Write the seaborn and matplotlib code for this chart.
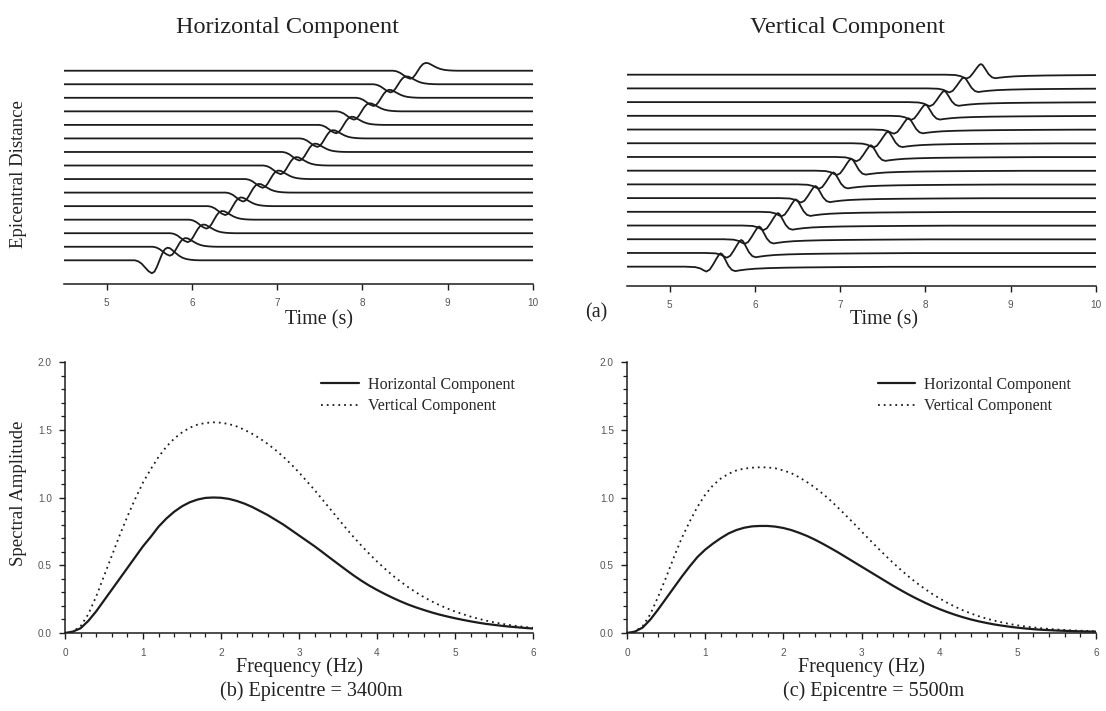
import numpy as np
import pandas as pd
import matplotlib
matplotlib.use("Agg")
import matplotlib.pyplot as plt
from matplotlib.ticker import MultipleLocator
import seaborn as sns

# ---------------------------------------------------------------- data
# Spectral amplitude curves, sampled every 0.1 Hz from 0 to 6 Hz
freq = [round(0.1 * i, 1) for i in range(61)]

spec_b_horizontal = [
    0.0, 0.01, 0.035, 0.09, 0.16, 0.24, 0.32, 0.40, 0.48, 0.56,
    0.64, 0.71, 0.785, 0.845, 0.895, 0.935, 0.965, 0.985, 0.997, 1.0,
    0.998, 0.99, 0.975, 0.955, 0.93, 0.90, 0.87, 0.835, 0.80, 0.76,
    0.72, 0.68, 0.64, 0.597, 0.553, 0.51, 0.467, 0.425, 0.386, 0.35,
    0.318, 0.288, 0.26, 0.234, 0.21, 0.189, 0.17, 0.152, 0.136, 0.122,
    0.109, 0.097, 0.086, 0.076, 0.067, 0.06, 0.053, 0.047, 0.042, 0.037,
    0.033]
spec_b_vertical = [
    0.0, 0.01, 0.05, 0.14, 0.27, 0.42, 0.57, 0.72, 0.86, 0.99,
    1.11, 1.21, 1.30, 1.375, 1.435, 1.48, 1.515, 1.538, 1.55, 1.555,
    1.552, 1.542, 1.525, 1.50, 1.47, 1.435, 1.395, 1.35, 1.30, 1.245,
    1.185, 1.12, 1.055, 0.985, 0.915, 0.845, 0.775, 0.708, 0.645, 0.585,
    0.528, 0.475, 0.425, 0.38, 0.338, 0.30, 0.265, 0.234, 0.206, 0.181,
    0.159, 0.139, 0.121, 0.105, 0.091, 0.079, 0.068, 0.059, 0.051, 0.044,
    0.038]
spec_c_horizontal = [
    0.0, 0.01, 0.04, 0.10, 0.175, 0.255, 0.335, 0.415, 0.49, 0.56,
    0.615, 0.66, 0.70, 0.735, 0.76, 0.777, 0.787, 0.79, 0.79, 0.785,
    0.775, 0.76, 0.74, 0.717, 0.69, 0.66, 0.628, 0.595, 0.56, 0.525,
    0.49, 0.455, 0.42, 0.385, 0.35, 0.317, 0.285, 0.255, 0.227, 0.20,
    0.176, 0.154, 0.134, 0.116, 0.10, 0.086, 0.074, 0.063, 0.054, 0.046,
    0.039, 0.033, 0.028, 0.024, 0.021, 0.018, 0.016, 0.014, 0.012, 0.011,
    0.01]
spec_c_vertical = [
    0.0, 0.01, 0.05, 0.14, 0.27, 0.41, 0.56, 0.70, 0.82, 0.93,
    1.02, 1.09, 1.14, 1.175, 1.20, 1.213, 1.22, 1.223, 1.222, 1.215,
    1.20, 1.18, 1.15, 1.115, 1.075, 1.03, 0.98, 0.925, 0.868, 0.81,
    0.75, 0.69, 0.632, 0.575, 0.52, 0.468, 0.418, 0.372, 0.33, 0.29,
    0.255, 0.222, 0.193, 0.167, 0.144, 0.124, 0.106, 0.091, 0.078, 0.066,
    0.056, 0.048, 0.041, 0.035, 0.03, 0.026, 0.022, 0.019, 0.017, 0.015,
    0.013]

# Synthetic seismograms: one trace per epicentral distance (nearest at the bottom)
n_traces = 15
h_trough_time = [5.53, 5.74, 5.95, 6.17, 6.39, 6.60, 6.83, 7.04, 7.26, 7.47, 7.69, 7.90,
                 8.13, 8.33, 8.56]
h_gain = [1.45, 1.0, 1.0, 1.0, 1.0, 1.0, 0.98, 0.97, 0.96, 0.95, 0.94, 0.93, 0.92, 0.91, 0.9]
# horizontal wavelet, time after trough (s) and amplitude (trace spacings)
h_wave_t = [-0.30, -0.20, -0.16, -0.12, -0.08, -0.04, 0.00, 0.03, 0.06, 0.09, 0.12,
            0.15, 0.18, 0.21, 0.24, 0.28, 0.32, 0.36, 0.40, 0.45, 0.50, 0.56]
h_wave_a = [0.0, 0.0, -0.05, -0.17, -0.36, -0.55, -0.66, -0.58, -0.33, 0.0, 0.32,
            0.55, 0.64, 0.62, 0.52, 0.37, 0.23, 0.13, 0.07, 0.03, 0.01, 0.0]

v_peak_time = [5.60, 5.84, 6.05, 6.27, 6.48, 6.71, 6.92, 7.13, 7.36, 7.56, 7.80, 8.00,
               8.22, 8.45, 8.65]
v_gain = [1.08, 1.05, 1.03, 1.01, 1.0, 0.98, 0.97, 0.96, 0.95, 0.93, 0.92, 0.91, 0.9,
          0.88, 0.86]
# vertical wavelet, time after peak (s) and amplitude (trace spacings)
v_wave_t = [-0.42, -0.30, -0.24, -0.20, -0.17, -0.13, -0.09, -0.05, -0.02, 0.0, 0.02,
            0.05, 0.09, 0.13, 0.17, 0.22, 0.30, 0.40, 0.55, 0.75, 1.00, 1.40, 2.0]
v_wave_a = [0.0, -0.03, -0.12, -0.25, -0.33, -0.2, 0.15, 0.55, 0.82, 0.90, 0.82,
            0.50, 0.05, -0.22, -0.30, -0.25, -0.19, -0.14, -0.10, -0.07, -0.05, -0.03, -0.01]

time_ticks = [5, 6, 7, 8, 9, 10]
freq_ticks = [0, 1, 2, 3, 4, 5, 6]
amp_ticks = [0.0, 0.5, 1.0, 1.5, 2.0]

# ---------------------------------------------------------------- style
sns.set_theme(style="white")
plt.rcParams["font.family"] = ["Liberation Serif", "DejaVu Serif"]
INK = "#1c1c1c"
TICK_GRAY = "#555555"
W, H = 1106, 711


def px_axes(fig, x0, y0, x1, y1):
    return fig.add_axes([x0 / W, 1 - y1 / H, (x1 - x0) / W, (y1 - y0) / H])


def trace_frame(arrivals, gains, wave_t, wave_a):
    rows = []
    for k in range(n_traces):
        ts = [4.5] + [arrivals[k] + dt for dt in wave_t]
        ys = [0.0] + [gains[k] * a for a in wave_a]
        ts.append(max(10.0, ts[-1] + 0.01))
        ys.append(ys[-1])
        for t, y in zip(ts, ys):
            rows.append({"time": t, "y": k + y, "trace": k})
    return pd.DataFrame(rows)


def style_time_axis(ax):
    for side in ("left", "top", "right"):
        ax.spines[side].set_visible(False)
    ax.spines["bottom"].set_color(INK)
    ax.spines["bottom"].set_linewidth(1.1)
    ax.set_xlim(4.5, 10)
    ax.set_xticks(time_ticks)
    ax.set_xticklabels([str(t) for t in time_ticks], family="Liberation Sans",
                       fontsize=7.2, color=TICK_GRAY)
    ax.set_yticks([])
    ax.tick_params(axis="x", direction="out", length=4.5, width=1.0, color=INK,
                   pad=5.5, bottom=True)
    ax.set_xlabel("")
    ax.set_ylabel("")
    ax.patch.set_alpha(0)


def style_spec_axis(ax):
    for side in ("top", "right"):
        ax.spines[side].set_visible(False)
    for side in ("left", "bottom"):
        ax.spines[side].set_color(INK)
        ax.spines[side].set_linewidth(1.1)
    ax.set_xlim(0, 6)
    ax.set_ylim(0, 2)
    ax.set_xticks(freq_ticks)
    ax.set_xticklabels([str(t) for t in freq_ticks], family="Liberation Sans",
                       fontsize=7.2, color=TICK_GRAY)
    ax.set_yticks(amp_ticks)
    ax.set_yticklabels([f"{t:.1f}" for t in amp_ticks], family="Liberation Sans",
                       fontsize=7.2, color=TICK_GRAY)
    ax.xaxis.set_minor_locator(MultipleLocator(0.2))
    ax.yaxis.set_minor_locator(MultipleLocator(0.1))
    ax.tick_params(which="major", direction="out", length=4.5, width=1.0, color=INK,
                   bottom=True, left=True)
    ax.tick_params(which="minor", direction="out", length=2.6, width=0.9, color=INK,
                   bottom=True, left=True)
    ax.tick_params(axis="x", which="major", pad=6)
    ax.tick_params(axis="y", which="major", pad=5)
    ax.set_xlabel("")
    ax.set_ylabel("")
    ax.patch.set_alpha(0)


fig = plt.figure(figsize=(W / 100, H / 100), dpi=100)
fig.patch.set_facecolor("white")

# ---------------------------------------------------------------- (a) seismograms
ax_h = px_axes(fig, 64, 50, 533, 284)
df_h = trace_frame(h_trough_time, h_gain, h_wave_t, h_wave_a)
sns.lineplot(data=df_h, x="time", y="y", units="trace", estimator=None, color=INK,
             linewidth=1.3, ax=ax_h, legend=False)
ax_h.set_ylim(-1.75, 15.53)
style_time_axis(ax_h)

ax_v = px_axes(fig, 627, 50, 1096, 286)
df_v = trace_frame(v_peak_time, v_gain, v_wave_t, v_wave_a)
sns.lineplot(data=df_v, x="time", y="y", units="trace", estimator=None, color=INK,
             linewidth=1.3, ax=ax_v, legend=False)
ax_v.set_ylim(-1.41, 15.8)
style_time_axis(ax_v)

fig.text(287 / W, 1 - 27 / H, "Horizontal Component", ha="center", va="center",
         fontsize=17.5, color="#222222")
fig.text(848 / W, 1 - 27 / H, "Vertical Component", ha="center", va="center",
         fontsize=17.5, color="#222222")
fig.text(19 / W, 1 - 174 / H, "Epicentral Distance", ha="center", va="center",
         rotation=90, fontsize=13.5, color="#222222")
fig.text(319 / W, 1 - 320 / H, "Time (s)", ha="center", va="center", fontsize=14.5,
         color="#222222")
fig.text(884 / W, 1 - 320 / H, "Time (s)", ha="center", va="center", fontsize=14.5,
         color="#222222")
fig.text(596 / W, 1 - 313 / H, "(a)", ha="center", va="center", fontsize=14.5,
         color="#222222")

# ---------------------------------------------------------------- (b), (c) spectra
panels = [
    (65, 533, spec_b_horizontal, spec_b_vertical, "(b) Epicentre = 3400m", 0.548),
    (627, 1096, spec_c_horizontal, spec_c_vertical, "(c) Epicentre = 5500m", 0.535),
]
for i, (x0, x1, sh, sv, caption, leg_x) in enumerate(panels):
    ax = px_axes(fig, x0, 362, x1, 633)
    df = pd.DataFrame({
        "freq": freq * 2,
        "amp": sh + sv,
        "component": ["Horizontal Component"] * len(freq) + ["Vertical Component"] * len(freq),
    })
    sns.lineplot(data=df, x="freq", y="amp", hue="component", style="component",
                 palette=[INK, INK], dashes=[(None, None), (1, 2.2)],
                 linewidth=1.6, ax=ax)
    # the dotted curve is drawn with a finer pen
    ax.lines[1].set_linewidth(1.3)
    ax.lines[1].set_dashes((1, 2.2))
    style_spec_axis(ax)
    handles, labels = ax.get_legend_handles_labels()
    handles[1].set_linewidth(1.3)
    ax.legend(handles, labels, loc="upper left", bbox_to_anchor=(leg_x, 0.945),
              frameon=False, fontsize=11.5, handlelength=2.35, handletextpad=0.55,
              labelspacing=0.35, borderpad=0, borderaxespad=0,
              labelcolor="#262626")
    cx = (x0 + x1) / 2
    fig.text(cx / W, 1 - 667 / H, "Frequency (Hz)", ha="center", va="center",
             fontsize=14.5, color="#222222")
    fig.text((cx + 12) / W, 1 - 691 / H, caption, ha="center", va="center",
             fontsize=14.5, color="#222222")

fig.text(19 / W, 1 - 493 / H, "Spectral Amplitude", ha="center", va="center",
         rotation=90, fontsize=13.5, color="#222222")

fig.savefig("out.png", dpi=100, facecolor="white")
